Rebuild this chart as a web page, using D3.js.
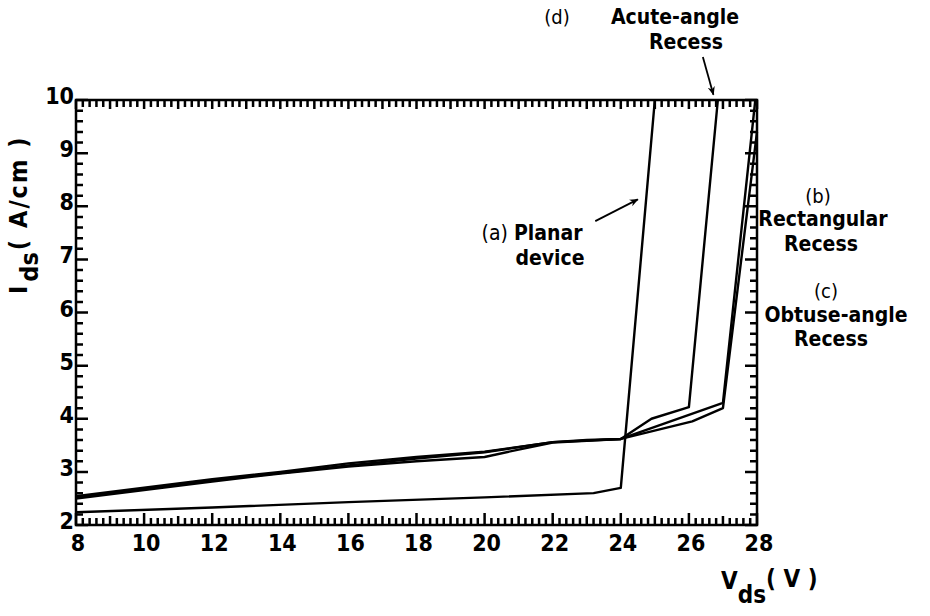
<!DOCTYPE html>
<html>
<head>
<meta charset="utf-8">
<script src="https://cdn.jsdelivr.net/npm/d3@7"></script>
<style>
  body { margin: 0; background: #fff; }
  text { font-family: "DejaVu Sans Condensed", "DejaVu Sans", sans-serif; font-weight: bold; fill: #000; }
</style>
</head>
<body>
<svg id="chart" width="930" height="616"></svg>
<script>
// Ids-Vds breakdown curves
var xTicks = [8, 10, 12, 14, 16, 18, 20, 22, 24, 26, 28];
var yTicks = [2, 3, 4, 5, 6, 7, 8, 9, 10];

var planarV = [8, 12, 16, 20, 23.2, 24.0, 25.0];
var planarI = [2.24, 2.33, 2.43, 2.52, 2.6, 2.7, 10];

var acuteV = [8, 10, 12, 14, 16, 18, 20, 22, 23, 24, 24.9, 26.0, 26.85];
var acuteI = [2.52, 2.68, 2.84, 2.98, 3.12, 3.25, 3.37, 3.56, 3.6, 3.62, 4.0, 4.22, 10];

var rectV = [8, 10, 12, 14, 16, 18, 20, 22, 24, 27.0, 27.95];
var rectI = [2.54, 2.7, 2.86, 3.0, 3.16, 3.28, 3.38, 3.56, 3.62, 4.3, 10];

var obtuseV = [8, 10, 12, 14, 16, 18, 20, 21, 22, 24, 26.1, 27.0, 28.0];
var obtuseI = [2.5, 2.66, 2.82, 2.97, 3.1, 3.2, 3.28, 3.42, 3.55, 3.62, 3.95, 4.2, 9.4];

var svg = d3.select("#chart");

var x = d3.scaleLinear().domain([8, 28]).range([76, 757]);
var y = d3.scaleLinear().domain([2, 10]).range([525, 100]);

// frame
svg.append("rect")
  .attr("x", x(8)).attr("y", y(10))
  .attr("width", x(28) - x(8)).attr("height", y(2) - y(10))
  .attr("fill", "none").attr("stroke", "#000").attr("stroke-width", 2.5);

// ticks all round, pointing inward
var xMinor = d3.range(0, 101).map(i => 8 + i * 0.2);
var yMinor = d3.range(0, 41).map(i => 2 + i * 0.2);

// 0.2 steps short, whole numbers longer, labelled ones longest
function tickLen(v, step) {
  var k = Math.round(v * 5);
  if (k % 5 !== 0) return 7;
  return (k / 5) % step === 0 ? 12 : 9;
}

var tp = d3.path();
xMinor.forEach(function(d) {
  tp.moveTo(x(d), y(2));
  tp.lineTo(x(d), y(2) - tickLen(d, 2));
  tp.moveTo(x(d), y(10));
  tp.lineTo(x(d), y(10) + Math.min(tickLen(d, 2), 9));
});
yMinor.forEach(function(d) {
  tp.moveTo(x(8), y(d));
  tp.lineTo(x(8) + tickLen(d, 1), y(d));
  tp.moveTo(x(28), y(d));
  tp.lineTo(x(28) - tickLen(d, 1), y(d));
});
svg.append("path")
  .attr("d", tp.toString())
  .attr("fill", "none")
  .attr("stroke", "#000")
  .attr("stroke-width", 2.5);

// tick labels
svg.selectAll(".xlab")
  .data(xTicks)
  .enter().append("text")
  .attr("x", d => x(d) + 2)
  .attr("y", y(2) + 26)
  .attr("text-anchor", "middle")
  .style("font-size", "23px")
  .text(d => d);

svg.selectAll(".ylab")
  .data(yTicks)
  .enter().append("text")
  .attr("x", x(8) - 2)
  .attr("y", d => y(d) + 4)
  .attr("text-anchor", "end")
  .style("font-size", "23px")
  .text(d => d);

// curves
var line = d3.line().x(d => x(d[0])).y(d => y(d[1]));
var series = [
  [planarV, planarI],
  [acuteV, acuteI],
  [rectV, rectI],
  [obtuseV, obtuseI]
];
svg.selectAll(".curve")
  .data(series)
  .enter().append("path")
  .attr("d", s => line(d3.zip(s[0], s[1])))
  .attr("fill", "none")
  .attr("stroke", "#000")
  .attr("stroke-width", 2.4)
  .attr("stroke-linejoin", "round");

// arrows
svg.append("defs").append("marker")
  .attr("id", "head")
  .attr("viewBox", "0 0 10 10")
  .attr("refX", 9).attr("refY", 5)
  .attr("markerWidth", 5).attr("markerHeight", 5)
  .attr("orient", "auto")
  .append("path").attr("d", "M0,1 L10,5 L0,9 L3,5 Z").attr("fill", "#000");

var arrows = [
  [[26.41, 10.81], [26.72, 10.1]],
  [[23.25, 7.72], [24.5, 8.13]]
];
svg.selectAll(".arrow")
  .data(arrows)
  .enter().append("line")
  .attr("x1", d => x(d[0][0])).attr("y1", d => y(d[0][1]))
  .attr("x2", d => x(d[1][0])).attr("y2", d => y(d[1][1]))
  .attr("stroke", "#000").attr("stroke-width", 1.8)
  .attr("marker-end", "url(#head)");

// annotations: normal part then bold part
var notes = [
  {p: "(d)", b: "", x: 557, y: 24, fs: 20},
  {p: "", b: "Acute-angle", x: 675, y: 24, fs: 21},
  {p: "", b: "Recess", x: 686, y: 49, fs: 21},
  {p: "(a) ", b: "Planar", x: 532, y: 240, fs: 21},
  {p: "", b: "device", x: 550, y: 265, fs: 21},
  {p: "(b)", b: "", x: 818, y: 203, fs: 20},
  {p: "", b: "Rectangular", x: 823, y: 226, fs: 21},
  {p: "", b: "Recess", x: 821, y: 251, fs: 21},
  {p: "(c)", b: "", x: 826, y: 298, fs: 20},
  {p: "", b: "Obtuse-angle", x: 836, y: 322, fs: 21},
  {p: "", b: "Recess", x: 831, y: 346, fs: 21}
];
var nt = svg.selectAll(".note")
  .data(notes)
  .enter().append("text")
  .attr("x", d => d.x).attr("y", d => d.y)
  .attr("text-anchor", "middle")
  .style("font-size", d => d.fs + "px");
nt.append("tspan").style("font-weight", "normal").text(d => d.p);
nt.append("tspan").text(d => d.b);

// axis titles
var yt = svg.append("text")
  .attr("transform", "translate(27,294) rotate(-90)")
  .style("font-size", "25px");
yt.append("tspan").text("I");
yt.append("tspan").attr("dy", 11).attr("dx", 4).text("ds");
yt.append("tspan").attr("dy", -11).attr("dx", 2).style("letter-spacing", "2px").text("( A/cm )");

var xt = svg.append("text")
  .attr("x", 721).attr("y", 589)
  .style("font-size", "24px");
xt.append("tspan").text("V");
xt.append("tspan").attr("dy", 14).text("ds");
xt.append("tspan").attr("dy", -16).text("( V )");
</script>
</body>
</html>
